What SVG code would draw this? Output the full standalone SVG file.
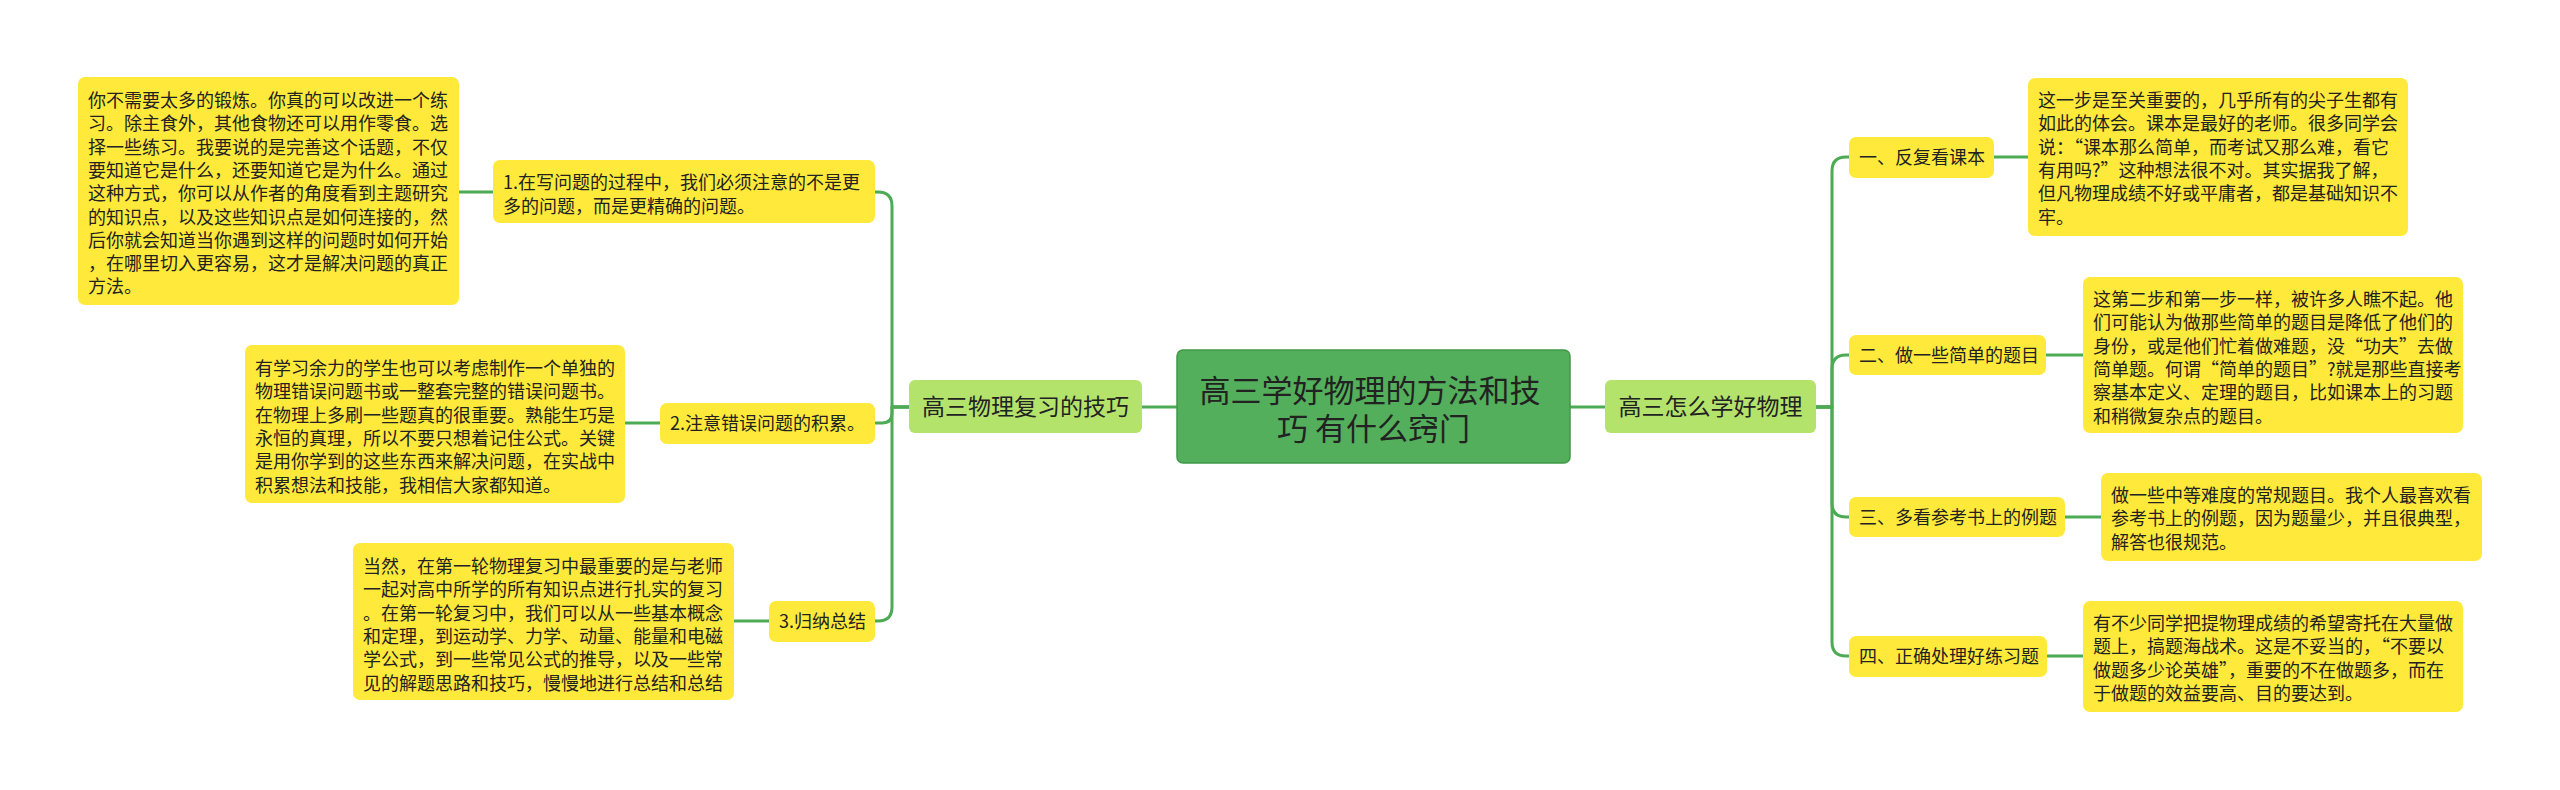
<svg xmlns="http://www.w3.org/2000/svg" width="2560" height="790" viewBox="0 0 2560 790">
<style>
text{font-family:"Noto Sans CJK SC","Noto Sans",sans-serif;fill:#222;}
.d{font-size:18px;}
.m{font-size:18px;}
.s{font-size:23px;}
.r{font-size:31px;}
.yb{fill:#FFE93A;}
.gb{fill:#B4E36C;}
.rb{fill:#53AF5B;stroke:#3F9A47;stroke-width:1.5;}
.c{fill:none;stroke:#4DAA55;stroke-width:3;stroke-linecap:round;stroke-linejoin:round;}
</style>
<rect width="2560" height="790" fill="#ffffff"/>
<g id="connectors">
<path class="c" d="M1142 407 H1177"/>
<path class="c" d="M1570 407 H1605"/>
<path class="c" d="M909 407 H892 V206 Q892 192 878 192 H874"/>
<path class="c" d="M909 407 H892 V413 Q892 423 882 423 H874"/>
<path class="c" d="M909 407 H892 V607 Q892 621 878 621 H874"/>
<path class="c" d="M1816 407 H1832 V171 Q1832 157 1846 157 H1849"/>
<path class="c" d="M1816 407 H1832 V369 Q1832 355 1846 355 H1849"/>
<path class="c" d="M1816 407 H1832 V503 Q1832 517 1846 517 H1849"/>
<path class="c" d="M1816 407 H1832 V642 Q1832 656 1846 656 H1849"/>
<path class="c" d="M459 192 H493"/>
<path class="c" d="M625 423 H660"/>
<path class="c" d="M734 621 H769"/>
<path class="c" d="M1994 157 H2028"/>
<path class="c" d="M2046 355 H2083"/>
<path class="c" d="M2065 517 H2101"/>
<path class="c" d="M2047 656 H2083"/>
</g>
<g id="root">
<rect class="rb" x="1177" y="350" width="393" height="113" rx="6"/>
<text class="r" text-anchor="middle">
<tspan x="1373.5" y="402">高三学好物理的方法和技</tspan>
<tspan x="1373.5" y="440">巧 有什么窍门</tspan>
</text>
</g>
<g id="n-left">
<rect class="gb" x="909" y="380" width="233" height="53" rx="6"/>
<text class="s" x="1025.5" y="415" text-anchor="middle">高三物理复习的技巧</text>
</g>
<g id="n-right">
<rect class="gb" x="1605" y="380" width="211" height="53" rx="6"/>
<text class="s" x="1710.5" y="415" text-anchor="middle">高三怎么学好物理</text>
</g>
<g id="l1">
<rect class="yb" x="493" y="160" width="382" height="63" rx="7"/>
<text class="m">
<tspan x="503" y="189">1.在写问题的过程中，我们必须注意的不是更</tspan>
<tspan x="503" y="212.5">多的问题，而是更精确的问题。</tspan>
</text>
</g>
<g id="l1d">
<rect class="yb" x="78" y="77" width="381" height="228" rx="7"/>
<text class="d">
<tspan x="88" y="107">你不需要太多的锻炼。你真的可以改进一个练</tspan>
<tspan x="88" y="130.3">习。除主食外，其他食物还可以用作零食。选</tspan>
<tspan x="88" y="153.6">择一些练习。我要说的是完善这个话题，不仅</tspan>
<tspan x="88" y="176.9">要知道它是什么，还要知道它是为什么。通过</tspan>
<tspan x="88" y="200.2">这种方式，你可以从作者的角度看到主题研究</tspan>
<tspan x="88" y="223.5">的知识点，以及这些知识点是如何连接的，然</tspan>
<tspan x="88" y="246.8">后你就会知道当你遇到这样的问题时如何开始</tspan>
<tspan x="88" y="270.1">，在哪里切入更容易，这才是解决问题的真正</tspan>
<tspan x="88" y="293.4">方法。</tspan>
</text>
</g>
<g id="l2">
<rect class="yb" x="660" y="403" width="215" height="41" rx="7"/>
<text class="m" x="670" y="430">2.注意错误问题的积累。</text>
</g>
<g id="l2d">
<rect class="yb" x="245" y="345" width="380" height="158" rx="7"/>
<text class="d">
<tspan x="255" y="375">有学习余力的学生也可以考虑制作一个单独的</tspan>
<tspan x="255" y="398.3">物理错误问题书或一整套完整的错误问题书。</tspan>
<tspan x="255" y="421.6">在物理上多刷一些题真的很重要。熟能生巧是</tspan>
<tspan x="255" y="444.9">永恒的真理，所以不要只想着记住公式。关键</tspan>
<tspan x="255" y="468.2">是用你学到的这些东西来解决问题，在实战中</tspan>
<tspan x="255" y="491.5">积累想法和技能，我相信大家都知道。</tspan>
</text>
</g>
<g id="l3">
<rect class="yb" x="769" y="601" width="106" height="41" rx="7"/>
<text class="m" x="779" y="628">3.归纳总结</text>
</g>
<g id="l3d">
<rect class="yb" x="353" y="543" width="381" height="157" rx="7"/>
<text class="d">
<tspan x="363" y="573">当然，在第一轮物理复习中最重要的是与老师</tspan>
<tspan x="363" y="596.3">一起对高中所学的所有知识点进行扎实的复习</tspan>
<tspan x="363" y="619.6">。在第一轮复习中，我们可以从一些基本概念</tspan>
<tspan x="363" y="642.9">和定理，到运动学、力学、动量、能量和电磁</tspan>
<tspan x="363" y="666.2">学公式，到一些常见公式的推导，以及一些常</tspan>
<tspan x="363" y="689.5">见的解题思路和技巧，慢慢地进行总结和总结</tspan>
</text>
</g>
<g id="r1">
<rect class="yb" x="1849" y="137" width="145" height="41" rx="7"/>
<text class="m" x="1859" y="164">一、反复看课本</text>
</g>
<g id="r1d">
<rect class="yb" x="2028" y="78" width="380" height="158" rx="7"/>
<text class="d">
<tspan x="2038" y="107">这一步是至关重要的，几乎所有的尖子生都有</tspan>
<tspan x="2038" y="130.3">如此的体会。课本是最好的老师。很多同学会</tspan>
<tspan x="2038" y="153.6">说：“课本那么简单，而考试又那么难，看它</tspan>
<tspan x="2038" y="176.9">有用吗?”这种想法很不对。其实据我了解，</tspan>
<tspan x="2038" y="200.2">但凡物理成绩不好或平庸者，都是基础知识不</tspan>
<tspan x="2038" y="223.5">牢。</tspan>
</text>
</g>
<g id="r2">
<rect class="yb" x="1849" y="335" width="197" height="40" rx="7"/>
<text class="m" x="1859" y="362">二、做一些简单的题目</text>
</g>
<g id="r2d">
<rect class="yb" x="2083" y="277" width="380" height="156" rx="7"/>
<text class="d">
<tspan x="2093" y="306">这第二步和第一步一样，被许多人瞧不起。他</tspan>
<tspan x="2093" y="329.3">们可能认为做那些简单的题目是降低了他们的</tspan>
<tspan x="2093" y="352.6">身份，或是他们忙着做难题，没“功夫”去做</tspan>
<tspan x="2093" y="375.9">简单题。何谓“简单的题目”?就是那些直接考</tspan>
<tspan x="2093" y="399.2">察基本定义、定理的题目，比如课本上的习题</tspan>
<tspan x="2093" y="422.5">和稍微复杂点的题目。</tspan>
</text>
</g>
<g id="r3">
<rect class="yb" x="1849" y="497" width="216" height="40" rx="7"/>
<text class="m" x="1859" y="524">三、多看参考书上的例题</text>
</g>
<g id="r3d">
<rect class="yb" x="2101" y="473" width="381" height="88" rx="7"/>
<text class="d">
<tspan x="2111" y="502">做一些中等难度的常规题目。我个人最喜欢看</tspan>
<tspan x="2111" y="525.3">参考书上的例题，因为题量少，并且很典型，</tspan>
<tspan x="2111" y="548.6">解答也很规范。</tspan>
</text>
</g>
<g id="r4">
<rect class="yb" x="1849" y="636" width="198" height="41" rx="7"/>
<text class="m" x="1859" y="663">四、正确处理好练习题</text>
</g>
<g id="r4d">
<rect class="yb" x="2083" y="601" width="380" height="111" rx="7"/>
<text class="d">
<tspan x="2093" y="630">有不少同学把提物理成绩的希望寄托在大量做</tspan>
<tspan x="2093" y="653.3">题上，搞题海战术。这是不妥当的，“不要以</tspan>
<tspan x="2093" y="676.6">做题多少论英雄”，重要的不在做题多，而在</tspan>
<tspan x="2093" y="699.9">于做题的效益要高、目的要达到。</tspan>
</text>
</g>
</svg>
